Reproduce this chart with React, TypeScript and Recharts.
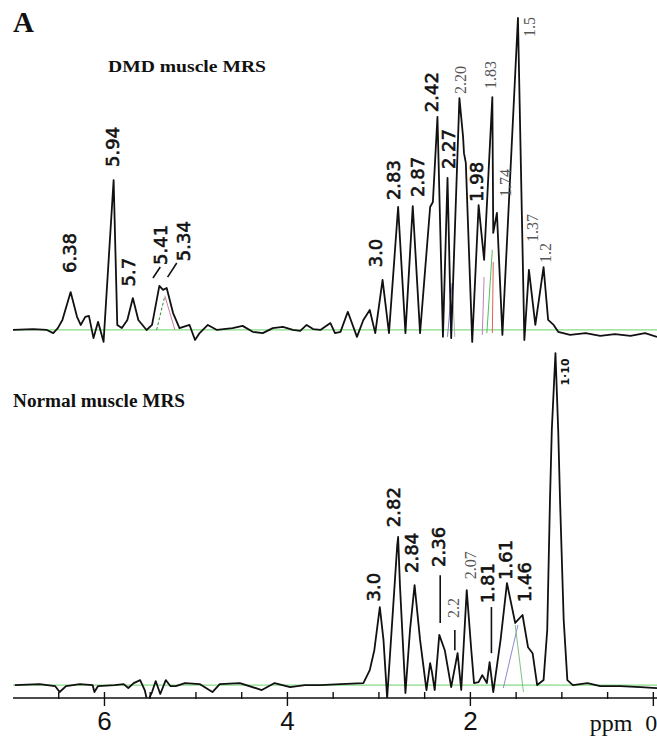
import { ComposedChart, Line, XAxis, YAxis, ReferenceLine, ReferenceDot } from 'recharts';

// spectra as [ppm, relative intensity] pairs (tallest peak of each trace = 100)
const dmdSpectrum: [number, number][] = [
  [7.0, 0], [6.78, 0.3], [6.63, 0], [6.56, -1.0], [6.51, 0.6], [6.46, 3.2], [6.37, 12.1], [6.3, 4.2],
  [6.26, 1.6], [6.21, 4.2], [6.17, 4.5], [6.12, -2.6], [6.07, 2.6], [6.01, -3.8], [5.9, 47.9], [5.86, 1.6],
  [5.81, 0.6], [5.75, 3.2], [5.69, 10.2], [5.63, 3.2], [5.54, 0], [5.48, 1.6], [5.4, 14.1], [5.36, 12.8],
  [5.32, 13.4], [5.25, 5.4], [5.18, 0.6], [5.07, 1.6], [5.01, -3.2], [4.96, -1.0], [4.87, 1.6], [4.77, 0],
  [4.6, 0.6], [4.49, 1.3], [4.38, -0.6], [4.27, -1.0], [4.16, 0.6], [4.05, 1.0], [3.94, 0], [3.86, -0.3],
  [3.79, 1.6], [3.72, 0.3], [3.64, 0], [3.53, 2.2], [3.48, -1.0], [3.42, -0.6], [3.34, 5.8], [3.24, -2.2],
  [3.17, 3.2], [3.1, 6.4], [3.04, -1.0], [2.96, 16.0], [2.89, -1.0], [2.79, 39.3], [2.71, -1.0], [2.63, 39.6],
  [2.55, -1.0], [2.44, 39.3], [2.41, 40.9], [2.36, 68.1], [2.3, -2.2], [2.25, 48.6], [2.21, -2.6], [2.12, 74.1],
  [2.08, 61.7], [2.07, 56.5], [2.05, 53.4], [1.98, -3.8], [1.91, 39.9], [1.85, 22.4], [1.76, 74.4], [1.75, 31.0],
  [1.71, 37.4], [1.65, -1.6], [1.48, 99.7], [1.41, -3.2], [1.36, 19.2], [1.29, 1.6], [1.2, 20.1], [1.15, 3.2],
  [1.09, 1.6], [1.04, -0.6], [0.91, -1.6], [0.74, -1.0], [0.58, -1.9], [0.42, -1.3], [0.25, -1.9], [0.09, -1.0],
  [-0.04, -2.2],
];

const normalSpectrum: [number, number][] = [
  [6.98, 0], [6.71, 0.3], [6.54, -0.3], [6.49, -2.1], [6.42, -0.3], [6.27, 0.3], [6.13, 0], [6.11, -2.1],
  [6.07, -0.3], [5.89, 0], [5.79, 0.3], [5.74, -0.9], [5.68, 0.6], [5.61, 1.5], [5.56, -1.5], [5.53, -5.1],
  [5.48, -2.1], [5.44, 1.2], [5.39, -2.7], [5.33, 1.5], [5.28, -0.3], [5.22, -0.3], [5.12, 0.6], [4.96, 0.3],
  [4.82, -2.1], [4.74, 0.3], [4.52, 0.6], [4.28, -1.5], [4.14, 0.6], [3.97, -0.6], [3.81, 0], [3.64, 0],
  [3.42, 0.3], [3.17, 0.6], [3.1, 4.5], [3.05, 10.5], [2.99, 23.5], [2.95, 13.6], [2.91, -3.9], [2.8, 42.0],
  [2.79, 44.6], [2.77, 30.0], [2.71, -2.4], [2.66, 16.6], [2.61, 30.1], [2.55, 13.6], [2.48, -1.5], [2.44, 6.6],
  [2.42, 3.9], [2.39, -1.5], [2.34, 15.1], [2.28, 10.5], [2.21, -0.6], [2.14, 9.6], [2.1, -1.5], [2.04, 28.6],
  [1.99, 10.5], [1.96, 0.6], [1.91, 0.9], [1.87, 3.0], [1.82, 0.6], [1.79, 6.9], [1.75, -2.1], [1.67, 13.6],
  [1.6, 30.7], [1.51, 18.7], [1.43, 21.1], [1.37, 11.4], [1.32, 9.6], [1.27, 0], [1.2, 1.5], [1.16, 16.6],
  [1.13, 55.7], [1.11, 76.8], [1.07, 100], [1.04, 76.8], [1.02, 55.7], [0.98, 19.6], [0.94, 1.5], [0.88, 0],
  [0.72, 0.6], [0.58, -0.3], [0.36, -0.3], [0.14, -0.6], [-0.04, -0.9],
];

// peak annotations: [text, ppm, intensity at label centre]
const dmdBoldLabels: [string, number, number][] = [
  ['6.38', 6.38, 24.6], ['5.94', 5.91, 58.5], ['5.7', 5.74, 18.5], ['5.41', 5.39, 27.2], ['5.34', 5.14, 28.4],
  ['3.0', 3.04, 24.6], ['2.83', 2.84, 47.9], ['2.87', 2.58, 48.9], ['2.42', 2.42, 76.0], ['2.27', 2.24, 57.8],
  ['1.98', 1.93, 47.3],
];
const dmdThinLabels: [string, number, number][] = [
  ['2.20', 2.11, 79.9], ['1.83', 1.78, 81.5], ['1.74', 1.62, 47.0], ['1.5', 1.35, 96.8], ['1.37', 1.32, 32.6],
  ['1.2', 1.18, 24.6],
];
const normalBoldLabels: [string, number, number][] = [
  ['3.0', 3.06, 29.5], ['2.82', 2.84, 53.6], ['2.84', 2.64, 39.8], ['2.36', 2.35, 41.6], ['1.81', 1.81, 30.7],
  ['1.61', 1.62, 37.7], ['1.46', 1.41, 31.0],
];
const normalThinLabels: [string, number, number][] = [['2.2', 2.19, 23.2], ['2.07', 2.0, 36.1]];
const normalSmallLabels: [string, number, number][] = [['1·10', 0.96, 94.3]];

// leader strokes next to labels: [ppm1, int1, ppm2, int2]
const dmdLeaders: [number, number, number, number][] = [[5.47, 16.6, 5.39, 20.1], [5.31, 16.9, 5.21, 21.4]];
const normalLeaders: [number, number, number, number][] = [
  [2.33, 33.1, 2.33, 18.7], [2.17, 16.6, 2.17, 10.5], [1.77, 23.5, 1.77, 9.6],
];

// fitted component outlines: [ppm1, int1, ppm2, int2, colour]
const dmdFits: [number, number, number, number, string][] = [
  [5.43, 0, 5.34, 10.9, '#2f8f2f'], [5.34, 10.9, 5.23, 0, '#d07aa0'],
  [2.25, -2.2, 2.2, 15.0, '#7b7bd0'], [2.2, 15.0, 2.17, -2.2, '#b0b0b0'],
  [1.87, -1.6, 1.85, 16.9, '#c080c0'], [1.82, -1.0, 1.76, 25.6, '#55c055'], [1.76, -1.0, 1.75, 21.7, '#e06060'],
];
const normalFits: [number, number, number, number, string][] = [
  [1.64, -0.9, 1.48, 18.1, '#8a8ad0'], [1.51, 18.1, 1.42, -2.1, '#7fc07f'],
];

const axisTicks = [6.5, 6, 5.5, 5, 4.5, 4, 3.5, 3, 2.5, 2, 1.5, 1, 0.5, 0];
const majorTicks = [6, 4, 2, 0];

const PPM_DOMAIN: [number, number] = [-0.04, 7.0];
const toRows = (s: [number, number][]) => s.map(([ppm, v]) => ({ ppm, v }));

function VLabel({ cx, cy, text, kind }: any) {
  const style =
    kind === 'thin'
      ? { fontFamily: '"Liberation Serif", serif', fontSize: 16, fill: '#555' }
      : kind === 'small'
      ? { fontFamily: '"DejaVu Sans", sans-serif', fontSize: 11, fontWeight: 700, fill: '#111' }
      : { fontFamily: '"DejaVu Sans", sans-serif', fontSize: 18, fill: '#111', stroke: '#111', strokeWidth: 0.6 };
  return (
    <text x={cx} y={cy} transform={`rotate(-90 ${cx} ${cy})`} textAnchor="middle" dominantBaseline="central" {...style}>
      {text}
    </text>
  );
}

function renderLabels(list: [string, number, number][], kind: string, prefix: string) {
  return list.map(([text, ppm, v], i) => (
    <ReferenceDot
      key={prefix + i}
      x={ppm}
      y={v}
      r={0}
      shape={(p: any) => <VLabel cx={p.cx} cy={p.cy} text={text} kind={kind} />}
    />
  ));
}

function renderSegments(list: [number, number, number, number][], prefix: string) {
  return list.map(([x1, y1, x2, y2], i) => (
    <ReferenceLine key={prefix + i} segment={[{ x: x1, y: y1 }, { x: x2, y: y2 }]} stroke="#111" strokeWidth={1.6} />
  ));
}

function renderFits(list: [number, number, number, number, string][], prefix: string) {
  return list.map(([x1, y1, x2, y2, c], i) => (
    <ReferenceLine
      key={prefix + i}
      segment={[{ x: x1, y: y1 }, { x: x2, y: y2 }]}
      stroke={c}
      strokeWidth={1}
      strokeDasharray={i === 0 && prefix === 'df' ? '3 2' : undefined}
    />
  ));
}

function AxisTick({ x, y, payload }: any) {
  const v = payload.value;
  const major = majorTicks.includes(v);
  return (
    <g>
      <line x1={x} x2={x} y1={y - 6} y2={major ? y + 8 : y + 1} stroke="#111" strokeWidth={1.4} />
      {v === 0 ? (
        <g>
          <text x={x - 21} y={y + 33} textAnchor="end" fontFamily='"Liberation Serif", serif' fontSize={24} fill="#111">
            ppm
          </text>
          <text x={x - 8} y={y + 33} fontFamily='"Liberation Serif", serif' fontSize={24} fill="#111">
            0
          </text>
        </g>
      ) : major ? (
        <text x={x} y={y + 32} textAnchor="middle" fontFamily='"Liberation Sans", sans-serif' fontSize={26} fill="#111">
          {v}
        </text>
      ) : null}
    </g>
  );
}

export default function App() {
  const dmd = toRows(dmdSpectrum);
  const normal = toRows(normalSpectrum);
  return (
    <div style={{ position: 'absolute', left: 0, top: 0, width: 657, height: 739, overflow: 'hidden', background: '#fff' }}>
      <div style={{ position: 'absolute', left: 0, top: 0 }}>
        <ComposedChart width={657} height={360} margin={{ top: 4.5, right: 0, bottom: 5, left: 13 }}>
          <XAxis type="number" dataKey="ppm" domain={PPM_DOMAIN} reversed hide allowDataOverflow />
          <YAxis type="number" domain={[-8, 104]} hide allowDataOverflow />
          <ReferenceLine y={0} stroke="#86dc86" strokeWidth={1.2} />
          {renderFits(dmdFits, 'df')}
          <Line
            data={dmd}
            dataKey="v"
            type="linear"
            stroke="#111"
            strokeWidth={1.8}
            strokeLinejoin="round"
            dot={false}
            isAnimationActive={false}
          />
          {renderSegments(dmdLeaders, 'dl')}
          {renderLabels(dmdBoldLabels, 'bold', 'db')}
          {renderLabels(dmdThinLabels, 'thin', 'dt')}
        </ComposedChart>
      </div>
      <div style={{ position: 'absolute', left: 0, top: 330 }}>
        <ComposedChart width={657} height={409} margin={{ top: 9.8, right: 0, bottom: 0, left: 13 }}>
          <XAxis
            type="number"
            dataKey="ppm"
            domain={PPM_DOMAIN}
            reversed
            allowDataOverflow
            ticks={axisTicks}
            interval={0}
            tickLine={false}
            tickSize={0}
            tickMargin={0}
            height={41}
            axisLine={{ stroke: '#111', strokeWidth: 1.5 }}
            tick={(p: any) => <AxisTick {...p} />}
          />
          <YAxis type="number" domain={[-3.9, 104]} hide allowDataOverflow />
          <ReferenceLine y={0} stroke="#86dc86" strokeWidth={1.2} />
          {renderFits(normalFits, 'nf')}
          <Line
            data={normal}
            dataKey="v"
            type="linear"
            stroke="#111"
            strokeWidth={1.8}
            strokeLinejoin="round"
            dot={false}
            isAnimationActive={false}
          />
          {renderSegments(normalLeaders, 'nl')}
          {renderLabels(normalBoldLabels, 'bold', 'nb')}
          {renderLabels(normalThinLabels, 'thin', 'nt')}
          {renderLabels(normalSmallLabels, 'small', 'ns')}
        </ComposedChart>
      </div>
      <svg width={657} height={739} style={{ position: 'absolute', left: 0, top: 0, pointerEvents: 'none' }}>
        <text x={13} y={32} fontFamily='"Liberation Serif", serif' fontWeight={700} fontSize={29} fill="#111">
          A
        </text>
        <text
          x={108}
          y={72}
          fontFamily='"Liberation Serif", serif'
          fontWeight={700}
          fontSize={16}
          fill="#111"
          textLength={158}
          lengthAdjust="spacingAndGlyphs"
        >
          DMD muscle MRS
        </text>
        <text
          x={13}
          y={407}
          fontFamily='"Liberation Serif", serif'
          fontWeight={700}
          fontSize={18}
          fill="#111"
          textLength={172}
          lengthAdjust="spacingAndGlyphs"
        >
          Normal muscle MRS
        </text>
      </svg>
    </div>
  );
}
